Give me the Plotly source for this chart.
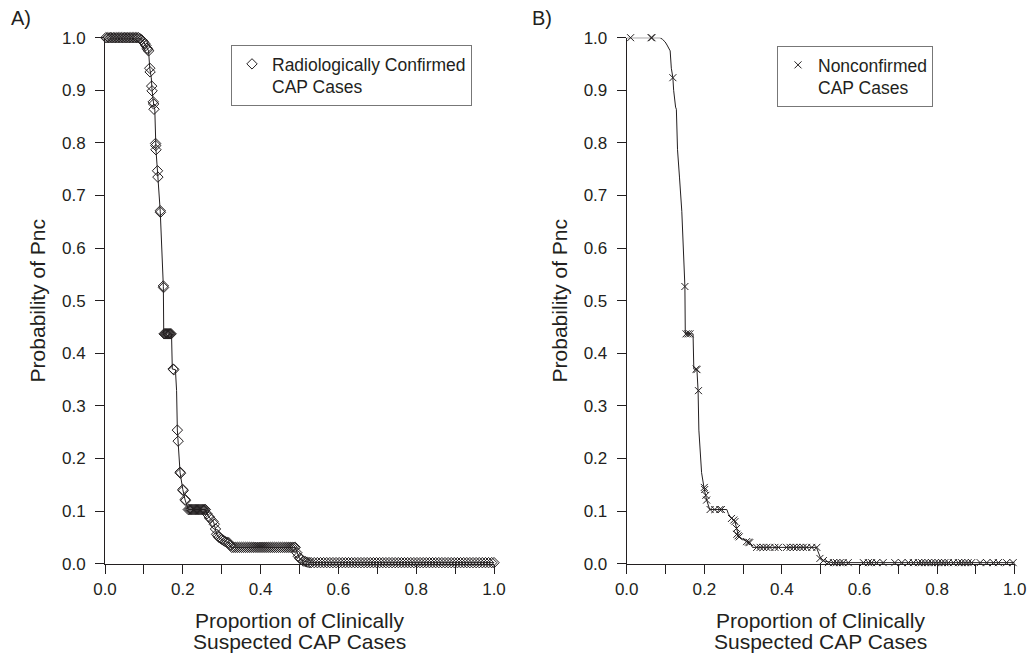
import plotly.graph_objects as go

# ---------------- data ----------------
# overall curve of all clinically suspected cases (drawn as the line in both panels)
curve_x = [0.000, 0.086, 0.092, 0.099, 0.104, 0.108, 0.112, 0.115, 0.119, 0.121,
           0.124, 0.126, 0.128, 0.130, 0.131, 0.136, 0.142, 0.150, 0.151, 0.171,
           0.173, 0.181, 0.184, 0.186, 0.188, 0.193, 0.200, 0.206, 0.214, 0.258,
           0.262, 0.270, 0.279, 0.283, 0.287, 0.292, 0.309, 0.318, 0.324, 0.489,
           0.494, 0.500, 0.510, 0.530, 1.000]
curve_y = [1.000, 1.000, 0.997, 0.992, 0.986, 0.980, 0.975, 0.942, 0.924, 0.900,
           0.878, 0.868, 0.864, 0.800, 0.787, 0.735, 0.670, 0.527, 0.437, 0.437,
           0.370, 0.369, 0.329, 0.254, 0.233, 0.173, 0.141, 0.121, 0.103, 0.103,
           0.095, 0.086, 0.080, 0.067, 0.056, 0.050, 0.042, 0.040, 0.031, 0.031,
           0.020, 0.010, 0.005, 0.002, 0.002]

# A) radiologically confirmed CAP cases
confirmed_x = [
    0.002, 0.006, 0.010, 0.014, 0.018, 0.022, 0.026, 0.030, 0.034, 0.038, 0.042,
    0.046, 0.050, 0.054, 0.058, 0.062, 0.066, 0.070, 0.074, 0.078, 0.082, 0.086,
    0.090, 0.094, 0.098, 0.102, 0.105, 0.108, 0.110, 0.112,
    0.115, 0.116, 0.120, 0.121, 0.124, 0.125, 0.126, 0.130, 0.1305, 0.131, 0.135,
    0.136, 0.142, 0.1425, 0.150, 0.1505,
    0.152, 0.154, 0.156, 0.158, 0.160, 0.162, 0.164, 0.166, 0.168, 0.170,
    0.175, 0.177, 0.186, 0.188, 0.193, 0.194, 0.200, 0.201, 0.206, 0.207,
    0.214, 0.217, 0.220, 0.223, 0.226, 0.229, 0.232, 0.235, 0.238, 0.241, 0.244,
    0.247, 0.250, 0.253, 0.256, 0.258,
    0.262, 0.268, 0.270, 0.278, 0.281, 0.284, 0.287, 0.290, 0.293, 0.297, 0.301,
    0.305, 0.309, 0.313, 0.318, 0.322,
    0.326, 0.331, 0.336, 0.341, 0.346, 0.351, 0.356, 0.361, 0.366, 0.371, 0.376,
    0.381, 0.386, 0.391, 0.396, 0.401, 0.406, 0.411, 0.416, 0.421, 0.426, 0.431,
    0.436, 0.441, 0.446, 0.451, 0.456, 0.461, 0.466, 0.471, 0.476, 0.481, 0.486,
    0.489,
    0.493, 0.497, 0.501, 0.505, 0.510, 0.515, 0.520, 0.525,
    0.530, 0.538, 0.546, 0.554, 0.562, 0.570, 0.578, 0.586, 0.594, 0.602, 0.610,
    0.618, 0.626, 0.634, 0.642, 0.650, 0.658, 0.666, 0.674, 0.682, 0.690, 0.698,
    0.706, 0.714, 0.722, 0.730, 0.738, 0.746, 0.754, 0.762, 0.770, 0.778, 0.786,
    0.794, 0.802, 0.810, 0.818, 0.826, 0.834, 0.842, 0.850, 0.858, 0.866, 0.874,
    0.882, 0.890, 0.898, 0.906, 0.914, 0.922, 0.930, 0.938, 0.946, 0.954, 0.962,
    0.970, 0.978, 0.986, 0.994, 1.000]
confirmed_y = [
    1.000, 1.000, 1.000, 1.000, 1.000, 1.000, 1.000, 1.000, 1.000, 1.000, 1.000,
    1.000, 1.000, 1.000, 1.000, 1.000, 1.000, 1.000, 1.000, 1.000, 1.000, 1.000,
    0.998, 0.996, 0.993, 0.989, 0.985, 0.980, 0.978, 0.975,
    0.942, 0.935, 0.908, 0.899, 0.878, 0.874, 0.864, 0.799, 0.795, 0.787, 0.747,
    0.735, 0.671, 0.668, 0.528, 0.525,
    0.437, 0.437, 0.437, 0.437, 0.437, 0.437, 0.437, 0.437, 0.437, 0.437,
    0.370, 0.369, 0.254, 0.233, 0.174, 0.172, 0.141, 0.139, 0.122, 0.120,
    0.103, 0.103, 0.103, 0.103, 0.103, 0.103, 0.103, 0.103, 0.103, 0.103, 0.103,
    0.103, 0.103, 0.103, 0.103, 0.103,
    0.095, 0.089, 0.086, 0.080, 0.075, 0.066, 0.056, 0.053, 0.050, 0.048, 0.046,
    0.044, 0.042, 0.041, 0.040, 0.035,
    0.031, 0.031, 0.031, 0.031, 0.031, 0.031, 0.031, 0.031, 0.031, 0.031, 0.031,
    0.031, 0.031, 0.031, 0.031, 0.031, 0.031, 0.031, 0.031, 0.031, 0.031, 0.031,
    0.031, 0.031, 0.031, 0.031, 0.031, 0.031, 0.031, 0.031, 0.031, 0.031, 0.031,
    0.031,
    0.021, 0.014, 0.010, 0.008, 0.005, 0.004, 0.003, 0.002,
    0.002, 0.002, 0.002, 0.002, 0.002, 0.002, 0.002, 0.002, 0.002, 0.002, 0.002,
    0.002, 0.002, 0.002, 0.002, 0.002, 0.002, 0.002, 0.002, 0.002, 0.002, 0.002,
    0.002, 0.002, 0.002, 0.002, 0.002, 0.002, 0.002, 0.002, 0.002, 0.002, 0.002,
    0.002, 0.002, 0.002, 0.002, 0.002, 0.002, 0.002, 0.002, 0.002, 0.002, 0.002,
    0.002, 0.002, 0.002, 0.002, 0.002, 0.002, 0.002, 0.002, 0.002, 0.002, 0.002,
    0.002, 0.002, 0.002, 0.002, 0.002]

# B) nonconfirmed CAP cases
nonconfirmed_x = [
    0.010, 0.063, 0.065, 0.119, 0.150, 0.153, 0.158, 0.163, 0.179, 0.181,
    0.185, 0.200, 0.201, 0.204, 0.206, 0.215, 0.227, 0.240, 0.244, 0.270,
    0.276, 0.279, 0.283, 0.284, 0.287, 0.290, 0.309, 0.314, 0.317,
    0.335, 0.344, 0.352, 0.361, 0.369, 0.382, 0.391, 0.412, 0.421, 0.430,
    0.438, 0.447, 0.455, 0.464, 0.477, 0.490,
    0.498, 0.507,
    0.520, 0.533, 0.541, 0.550, 0.558, 0.571, 0.610, 0.623, 0.631, 0.644,
    0.661, 0.691, 0.709, 0.726, 0.739, 0.752, 0.760, 0.769, 0.777, 0.786,
    0.795, 0.803, 0.812, 0.820, 0.829, 0.842, 0.855, 0.863, 0.872, 0.880,
    0.889, 0.911, 0.928, 0.945, 0.958, 0.979, 0.996]
nonconfirmed_y = [
    1.000, 1.000, 1.000, 0.924, 0.527, 0.437, 0.437, 0.437, 0.370, 0.369,
    0.329, 0.145, 0.141, 0.130, 0.121, 0.103, 0.103, 0.103, 0.103, 0.086,
    0.083, 0.080, 0.067, 0.056, 0.053, 0.051, 0.042, 0.041, 0.040,
    0.031, 0.031, 0.031, 0.031, 0.031, 0.031, 0.031, 0.031, 0.031, 0.031,
    0.031, 0.031, 0.031, 0.031, 0.031, 0.031,
    0.010, 0.006,
    0.002, 0.002, 0.002, 0.002, 0.002, 0.002, 0.002, 0.002, 0.002, 0.002,
    0.002, 0.002, 0.002, 0.002, 0.002, 0.002, 0.002, 0.002, 0.002, 0.002,
    0.002, 0.002, 0.002, 0.002, 0.002, 0.002, 0.002, 0.002, 0.002, 0.002,
    0.002, 0.002, 0.002, 0.002, 0.002, 0.002, 0.002]

x_tick_vals = [0.0, 0.2, 0.4, 0.6, 0.8, 1.0]
y_tick_vals = [0.0, 0.1, 0.2, 0.3, 0.4, 0.5, 0.6, 0.7, 0.8, 0.9, 1.0]
x_title_lines = ["Proportion of Clinically", "Suspected CAP Cases"]
y_title = "Probability of Pnc"
panel_labels = ["A)", "B)"]
legend_names = ["Radiologically Confirmed<br>CAP Cases", "Nonconfirmed<br>CAP Cases"]

# ---------------- figure ----------------
W, H = 1029, 654
INK = "#231f20"
FONT = "Liberation Sans, Arial, sans-serif"

fig = go.Figure()

# panel A
fig.add_trace(go.Scatter(x=curve_x, y=curve_y, mode="lines",
                         line=dict(color=INK, width=1), showlegend=False,
                         cliponaxis=False, xaxis="x", yaxis="y", hoverinfo="skip"))
fig.add_trace(go.Scatter(x=confirmed_x, y=confirmed_y, mode="markers",
                         name=legend_names[0],
                         marker=dict(symbol="diamond-open", size=8, color=INK,
                                     line=dict(width=1, color=INK)),
                         cliponaxis=False, xaxis="x", yaxis="y", legend="legend"))
# panel B
fig.add_trace(go.Scatter(x=curve_x, y=curve_y, mode="lines",
                         line=dict(color=INK, width=1), showlegend=False,
                         cliponaxis=False, xaxis="x2", yaxis="y2", hoverinfo="skip"))
fig.add_trace(go.Scatter(x=nonconfirmed_x, y=nonconfirmed_y, mode="markers",
                         name=legend_names[1],
                         marker=dict(symbol="x-thin-open", size=7, color=INK,
                                     line=dict(width=1, color=INK)),
                         cliponaxis=False, xaxis="x2", yaxis="y2", legend="legend2"))

ydom = [1 - 563.7 / H, 1 - 37.7 / H]
xdomA = [105.0 / W, 494.0 / W]
xdomB = [626.7 / W, 1014.7 / W]


def xaxis(dom, anchor):
    return dict(domain=dom, anchor=anchor, range=[0, 1], tickvals=x_tick_vals,
                tickformat=".1f", ticks="outside", ticklen=9, tickwidth=1,
                tickcolor=INK, showline=True, linecolor=INK, linewidth=1,
                showgrid=False, zeroline=False, ticklabelstandoff=1,
                automargin=False,
                minor=dict(dtick=0.1, tick0=0, ticks="outside", ticklen=9,
                           tickwidth=1, tickcolor=INK, showgrid=False),
                tickfont=dict(size=17, color=INK, family=FONT))


def yaxis(dom, anchor):
    return dict(domain=dom, anchor=anchor, range=[0, 1], tickvals=y_tick_vals,
                tickformat=".1f", ticks="outside", ticklen=9, tickwidth=1,
                tickcolor=INK, showline=True, linecolor=INK, linewidth=1,
                showgrid=False, zeroline=False, ticklabelstandoff=6,
                automargin=False,
                title=dict(text=y_title, standoff=10,
                           font=dict(size=21, color=INK, family=FONT)),
                tickfont=dict(size=17, color=INK, family=FONT))


legend_common = dict(xanchor="left", yanchor="top", bgcolor="white",
                     bordercolor="#777777", borderwidth=1,
                     font=dict(size=17.5, color=INK, family=FONT),
                     valign="top", itemclick=False, itemdoubleclick=False)

annotations = []
# x-axis titles (two lines, tighter leading than plotly's default)
for dom in (xdomA, xdomB):
    xc = (dom[0] + dom[1]) / 2
    for line_text, yc in zip(x_title_lines, (620.0, 641.5)):
        annotations.append(dict(text=line_text, x=xc, y=1 - yc / H,
                                xref="paper", yref="paper", showarrow=False,
                                xanchor="center", yanchor="middle",
                                font=dict(size=21, color=INK, family=FONT)))
# panel letters
for label, xc in zip(panel_labels, (21, 542)):
    annotations.append(dict(text=label, x=xc / W, y=1 - 18 / H, xref="paper",
                            yref="paper", showarrow=False, xanchor="center",
                            yanchor="middle",
                            font=dict(size=20, color=INK, family=FONT)))

fig.update_layout(
    width=W, height=H,
    margin=dict(l=0, r=0, t=0, b=0, autoexpand=False),
    paper_bgcolor="white", plot_bgcolor="white",
    font=dict(family=FONT, color=INK, size=17),
    xaxis=xaxis(xdomA, "y"), yaxis=yaxis(ydom, "x"),
    xaxis2=xaxis(xdomB, "y2"), yaxis2=yaxis(ydom, "x2"),
    legend=dict(x=231.0 / W, y=1 - 45.0 / H, **legend_common),
    legend2=dict(x=777.0 / W, y=1 - 46.0 / H, **legend_common),
    annotations=annotations,
)

fig.write_html("out.html",
               config={"displayModeBar": False},
               post_script="document.body.style.margin='0px';"
                           "document.body.style.overflow='hidden';")
